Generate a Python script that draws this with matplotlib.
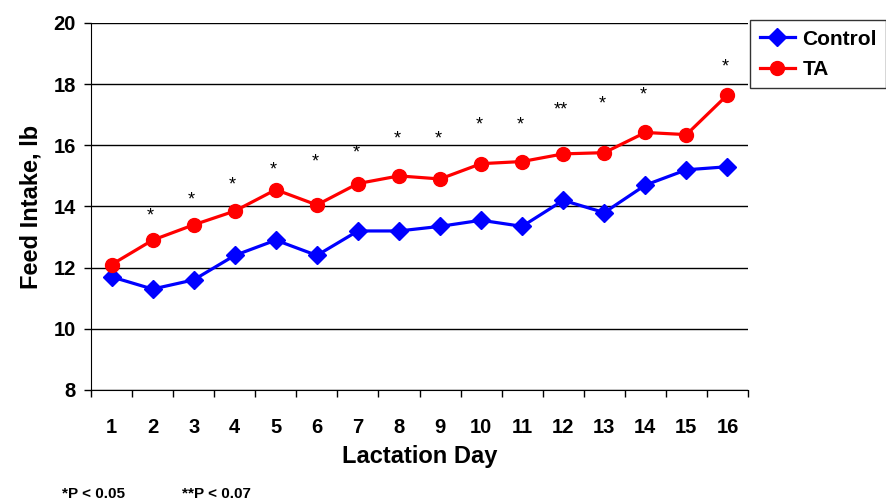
import matplotlib.pyplot as plt
import numpy as np

plt.rcParams['font.family'] = ['Liberation Sans', 'DejaVu Sans']
plt.rcParams['font.weight'] = 'bold'

# data
days = list(range(1, 17))
control = [11.7, 11.3, 11.6, 12.4, 12.9, 12.4, 13.2, 13.2, 13.35, 13.55, 13.35, 14.2, 13.8, 14.7, 15.2, 15.3]
ta = [12.1, 12.9, 13.4, 13.85, 14.55, 14.05, 14.75, 15.0, 14.9, 15.4, 15.47, 15.72, 15.76, 16.42, 16.35, 17.65]
sig_days = [2, 3, 4, 5, 6, 7, 8, 9, 10, 11, 12, 13, 14, 16]
sig_marks = ['*', '*', '*', '*', '*', '*', '*', '*', '*', '*', '**', '*', '*', '*']
sig_y = [13.7, 14.2, 14.7, 15.2, 15.45, 15.75, 16.2, 16.2, 16.65, 16.65, 17.15, 17.35, 17.65, 18.55]

fig = plt.figure(figsize=(8.87, 5.04), dpi=100)
ax = fig.add_axes([0.1026, 0.2262, 0.7407, 0.7282])

ax.plot(days, control, color='#0000FF', marker='D', markersize=9, linewidth=2.3, label='Control')
ax.plot(days, ta, color='#FF0000', marker='o', markersize=10, linewidth=2.3, label='TA')

for d, m, y in zip(sig_days, sig_marks, sig_y):
    ax.text(d - 0.05, y, m, ha='center', va='center', fontsize=13, fontweight='normal')

ax.set_xlim(0.5, 16.5)
ax.set_ylim(8, 20)
ax.set_yticks(np.arange(8, 21, 2))
ax.set_xticks(np.arange(0.5, 16.6, 1))
ax.set_xticklabels([])
ax.set_xticks(days, minor=True)
ax.set_xticklabels([str(d) for d in days], minor=True)
ax.tick_params(axis='x', which='major', direction='out', length=5, width=1)
ax.tick_params(axis='x', which='minor', length=0, pad=20, labelsize=14.5)
ax.tick_params(axis='y', direction='out', length=5, width=1, labelsize=14.5, pad=6)
for lab in ax.get_xticklabels(minor=True) + ax.get_yticklabels():
    lab.set_fontweight('bold')

ax.yaxis.grid(True, color='black', linewidth=1)
ax.set_axisbelow(True)
ax.spines['top'].set_visible(False)
ax.spines['right'].set_visible(False)

ax.set_xlabel('Lactation Day', fontsize=17, fontweight='bold', labelpad=6)
ax.set_ylabel('Feed Intake, lb', fontsize=17, fontweight='bold', labelpad=8)

fig.legend(loc='upper left', bbox_to_anchor=(0.846, 0.96),
           frameon=True, fancybox=False, edgecolor='black', handlelength=1.7,
           handletextpad=0.35, borderpad=0.45, labelspacing=0.55, borderaxespad=0,
           prop={'weight': 'bold', 'size': 15})

fig.text(0.07, 0.012, '*P < 0.05', fontsize=11, fontweight='bold')
fig.text(0.205, 0.012, '**P < 0.07', fontsize=11, fontweight='bold')

fig.savefig('out.png', dpi=100)
